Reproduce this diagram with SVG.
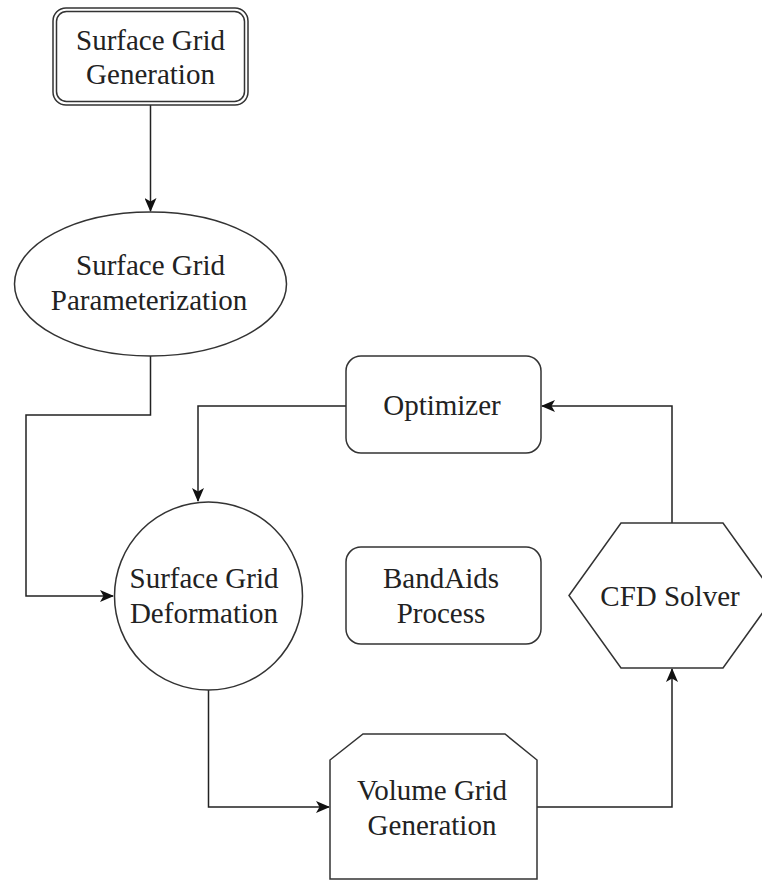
<svg xmlns="http://www.w3.org/2000/svg" width="762" height="880" viewBox="0 0 762 880">
<style>
.s{fill:#fff;stroke:#333;stroke-width:1.5}
.t{font-family:'Liberation Serif','Times New Roman',Times,serif;font-size:29px;fill:#222;text-anchor:middle}
.c{fill:none;stroke:#222;stroke-width:1.5}
</style>
<defs>
<marker id="a" viewBox="0 0 14 12" refX="13" refY="6" markerWidth="14" markerHeight="12" markerUnits="userSpaceOnUse" orient="auto">
<path d="M0,0 L14,6 L0,12 L3.5,6 Z" fill="#111"/>
</marker>
</defs>
<rect width="762" height="880" fill="#fff"/>
<g id="connectors">
<path class="c" d="M150.5,105 V211" marker-end="url(#a)"/>
<path class="c" d="M150.5,356 V415 H26 V596 H113" marker-end="url(#a)"/>
<path class="c" d="M346,406 H198 V501" marker-end="url(#a)"/>
<path class="c" d="M672,523 V406 H542" marker-end="url(#a)"/>
<path class="c" d="M208.5,690 V807 H329" marker-end="url(#a)"/>
<path class="c" d="M537,807 H672 V669" marker-end="url(#a)"/>
</g>
<g id="surface-grid-generation">
<rect class="s" x="53" y="8" width="195" height="97" rx="13"/>
<rect class="s" x="56.5" y="11.5" width="188" height="90" rx="10"/>
<text class="t" x="150.5" y="50">Surface Grid</text>
<text class="t" x="150.5" y="84">Generation</text>
</g>
<g id="surface-grid-parameterization">
<ellipse class="s" cx="150.5" cy="284" rx="136" ry="72"/>
<text class="t" x="150.5" y="275">Surface Grid</text>
<text class="t" x="149" y="310">Parameterization</text>
</g>
<g id="optimizer">
<rect class="s" x="346" y="356" width="195" height="97" rx="15"/>
<text class="t" x="442" y="415">Optimizer</text>
</g>
<g id="surface-grid-deformation">
<circle class="s" cx="208.5" cy="596" r="94"/>
<text class="t" x="204" y="588">Surface Grid</text>
<text class="t" x="204" y="623">Deformation</text>
</g>
<g id="bandaids-process">
<rect class="s" x="346" y="547" width="195" height="97" rx="15"/>
<text class="t" x="441" y="588">BandAids</text>
<text class="t" x="441" y="623">Process</text>
</g>
<g id="cfd-solver">
<polygon class="s" points="569,595.5 621,523 723,523 775,595.5 723,668 621,668"/>
<text class="t" x="670" y="606">CFD Solver</text>
</g>
<g id="volume-grid-generation">
<polygon class="s" points="330,760 363,734 505,734 537,760 537,879 330,879"/>
<text class="t" x="432" y="800">Volume Grid</text>
<text class="t" x="432" y="835">Generation</text>
</g>
</svg>
